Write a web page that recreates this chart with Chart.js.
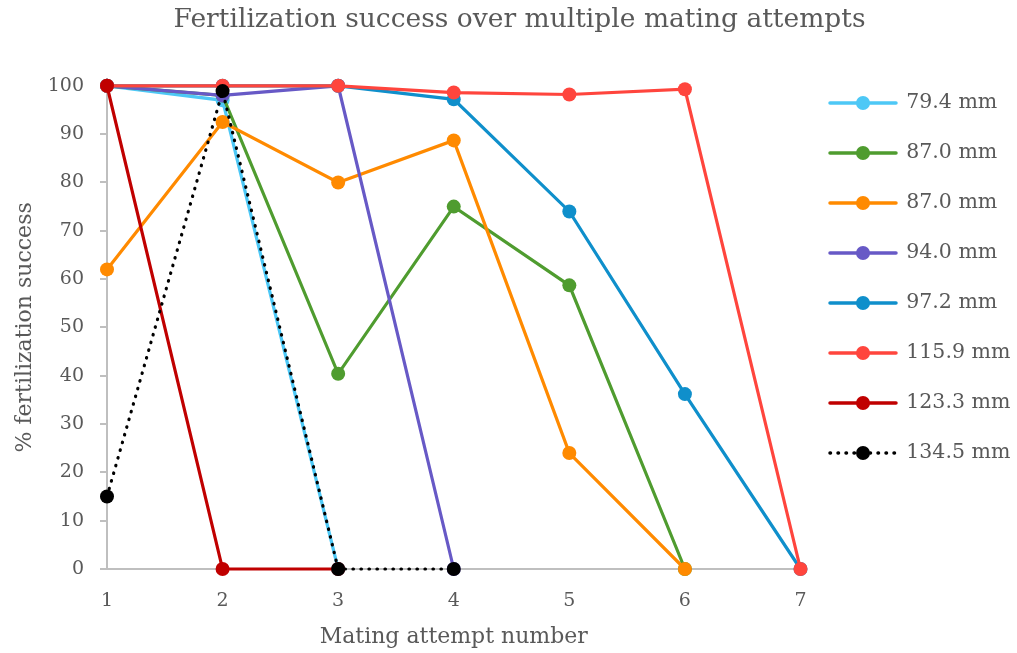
<!DOCTYPE html>
<html>
<head>
<meta charset="utf-8">
<script src="https://cdn.jsdelivr.net/npm/chart.js@4"></script>
<style>
  html, body { margin: 0; padding: 0; background: #fff; }
  #wrap { width: 1017px; height: 653px; }
</style>
</head>
<body>
<div id="wrap"><canvas id="fertChart" width="1017" height="653"></canvas></div>
<script>
const attempts = ["1", "2", "3", "4", "5", "6", "7"];
const sizeLabels = ["79.4 mm", "87.0 mm", "87.0 mm", "94.0 mm", "97.2 mm", "115.9 mm", "123.3 mm", "134.5 mm"];

const s794 = [100, 97, 0, null, null, null, null];
const s870a = [100, 98, 40.4, 75, 58.7, 0, null];
const s870b = [62, 92.5, 80, 88.7, 24, 0, null];
const s940 = [100, 98, 100, 0, null, null, null];
const s972 = [100, 100, 100, 97.2, 74, 36.2, 0];
const s1159 = [100, 100, 100, 98.6, 98.2, 99.3, 0];
const s1233 = [100, 0, 0, null, null, null, null];
const s1345 = [15, 98.9, 0, 0, null, null, null];

const seriesData = [s794, s870a, s870b, s940, s972, s1159, s1233, s1345];
const colors = ["#4DC8F6", "#4F9C2F", "#FF8A00", "#6759C6", "#0F8FCB", "#FF453D", "#C00000", "#000000"];

const font = "DejaVu Serif";
const textColor = "#595959";

// little line+dot images for the legend
function legendIcon(color, dotted) {
  const c = document.createElement("canvas");
  c.width = 70; c.height = 16;
  const g = c.getContext("2d");
  g.strokeStyle = color;
  g.lineWidth = 3.5;
  g.lineCap = "round";
  if (dotted) g.setLineDash([0.5, 7.5]);
  g.beginPath();
  g.moveTo(2, 8);
  g.lineTo(68, 8);
  g.stroke();
  g.setLineDash([]);
  g.fillStyle = color;
  g.beginPath();
  g.arc(35, 8, 7, 0, Math.PI * 2);
  g.fill();
  return c;
}

const n = seriesData.length;
const datasets = seriesData.map((d, i) => {
  const dotted = i === n - 1;
  return {
    label: sizeLabels[i],
    data: d,
    borderColor: colors[i],
    backgroundColor: colors[i],
    borderWidth: 3.2,
    borderDash: dotted ? [0.5, 7.5] : [],
    borderCapStyle: dotted ? "round" : "butt",
    pointRadius: 7,
    pointHoverRadius: 7,
    pointBorderWidth: 0,
    pointBackgroundColor: colors[i],
    tension: 0,
    clip: false,
    order: n - i,
    icon: legendIcon(colors[i], dotted)
  };
});

const ctx = document.getElementById("fertChart").getContext("2d");
new Chart(ctx, {
  type: "line",
  data: { labels: attempts, datasets: datasets },
  options: {
    responsive: false,
    animation: false,
    layout: { padding: { left: 22, right: 0, top: 0, bottom: 3 } },
    plugins: {
      title: {
        display: true,
        text: "Fertilization success over multiple mating attempts",
        color: textColor,
        font: { family: font, size: 26.5, weight: "normal" },
        padding: { top: 4, bottom: 50 }
      },
      legend: {
        position: "right",
        align: "start",
        maxWidth: 216.5,
        title: { display: true, text: "", font: { size: 12 }, padding: { top: 0, bottom: 48.85 } },
        labels: {
          color: textColor,
          font: { family: font, size: 20.5 },
          usePointStyle: true,
          pointStyleWidth: 66,
          padding: 29.5,
          sort: (a, b) => a.datasetIndex - b.datasetIndex,
          generateLabels: (chart) => chart.data.datasets.map((ds, i) => ({
            text: ds.label,
            datasetIndex: i,
            pointStyle: ds.icon,
            fontColor: textColor,
            fillStyle: ds.borderColor,
            strokeStyle: ds.borderColor,
            lineWidth: 0,
            hidden: false
          }))
        }
      },
      tooltip: { enabled: false }
    },
    scales: {
      x: {
        offset: false,
        grid: { display: false },
        border: { display: true, color: "#BFBFBF", width: 2 },
        ticks: { color: textColor, font: { family: font, size: 19 }, padding: 13 },
        title: {
          display: true,
          text: "Mating attempt number",
          color: textColor,
          font: { family: font, size: 22 },
          padding: { top: 0, bottom: 0 }
        },
        afterFit: (scale) => { scale.height = 81; }
      },
      y: {
        min: 0,
        max: 100,
        ticks: { stepSize: 10, color: textColor, font: { family: font, size: 19 }, padding: 16 },
        grid: { drawOnChartArea: false, drawTicks: true, tickLength: 7, color: "#BFBFBF", lineWidth: 2 },
        border: { display: true, color: "#BFBFBF", width: 2 },
        title: {
          display: true,
          text: "% fertilization success",
          color: textColor,
          font: { family: font, size: 22 },
          padding: { top: -10, bottom: 2 }
        },
        afterFit: (scale) => { scale.width = 85; }
      }
    }
  }
});
</script>
</body>
</html>
